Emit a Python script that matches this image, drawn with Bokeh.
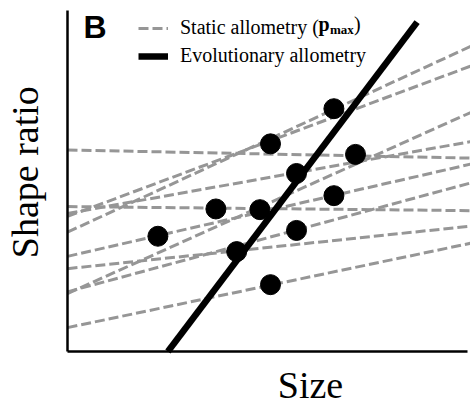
import math
from bokeh.plotting import figure
from bokeh.models import Range1d, Label, Legend, LegendItem, FixedTicker
from bokeh.embed import file_html
from bokeh.resources import INLINE

# ---- data ----
# species means (p_max points)
size_mean = [6.66, 5.075, 7.20, 5.725, 6.66, 3.71, 4.81, 2.26, 5.725, 4.23, 5.075]
shape_mean = [7.12, 6.09, 5.78, 5.22, 4.57, 4.18, 4.16, 3.38, 3.55, 2.93, 1.96]

# static allometry lines: shape ratio at the two ends of the size span
size_span = [0.0, 10.1]
static_start = [3.50, 3.96, 5.91, 4.05, 2.79, 4.25, 1.70, 1.75, 2.43, 0.70]
static_end = [8.96, 8.38, 5.67, 6.16, 5.50, 4.13, 7.02, 4.95, 3.68, 3.18]

# evolutionary allometry line
evo_size = [2.51, 8.74]
evo_shape = [0.0, 9.66]

# axis extents (data units)
size_axis = (0.0, 10.0)
shape_axis = (0.0, 10.0)

# ---- page-pixel helpers for text placement ----
W, H = 470, 414
FRAME_L, FRAME_B = 67.0, 351.0
PX_X = 40.0
PX_Y = 34.1


def dx(px):
    return (px - FRAME_L) / PX_X


def dy(py):
    return (FRAME_B - py) / PX_Y


serif = "Liberation Serif"

p = figure(width=W, height=H, output_backend="svg", toolbar_location=None,
           x_range=Range1d(dx(0), dx(W)), y_range=Range1d(dy(H), dy(0)),
           min_border_left=0, min_border_right=0, min_border_top=0,
           min_border_bottom=0)
p.outline_line_color = None
p.grid.visible = False

for ax, loc, bnds in ((p.xaxis[0], 0.0, size_axis), (p.yaxis[0], 0.0, shape_axis)):
    ax.ticker = FixedTicker(ticks=[])
    ax.major_label_text_font_size = "0px"
    ax.major_label_standoff = 0
    ax.major_tick_out = 0
    ax.major_tick_in = 0
    ax.minor_tick_out = 0
    ax.minor_tick_in = 0
    ax.major_tick_line_color = None
    ax.minor_tick_line_color = None
    ax.axis_label = None
    ax.axis_line_width = 2.5
    ax.axis_line_color = "black"
    ax.fixed_location = loc
    ax.bounds = bnds

GRAY = "#969696"
r_static = p.multi_line(xs=[size_span for _ in static_start],
                        ys=[[a, b] for a, b in zip(static_start, static_end)],
                        line_color=GRAY, line_width=3, line_dash="10 4")
r_evo = p.line(evo_size, evo_shape, line_color="black", line_width=6.5)
p.scatter(size_mean, shape_mean, size=20, color="black")

legend = Legend(items=[LegendItem(label="Static allometry (", renderers=[r_static]),
                       LegendItem(label="Evolutionary allometry", renderers=[r_evo])],
                location=(138, 347), orientation="vertical",
                glyph_width=30, glyph_height=20, label_standoff=12, spacing=5,
                padding=0, margin=0, border_line_color=None,
                background_fill_alpha=0, label_text_font=serif,
                label_text_font_size="20px", label_text_color="black")
p.add_layout(legend)


def mid(baseline_px, size, asc=0.891, desc=0.216):
    return dy(baseline_px - (asc - desc) / 2 * size)


p.add_layout(Label(x=dx(318), y=mid(29.9, 20), text="p", text_font=serif,
                   text_font_style="bold", text_font_size="20px",
                   text_color="black", text_baseline="middle"))
p.add_layout(Label(x=dx(329.5), y=mid(33.2, 13), text="max", text_font=serif,
                   text_font_style="bold", text_font_size="13px",
                   text_color="black", text_baseline="middle"))
p.add_layout(Label(x=dx(353.5), y=mid(29.9, 20), text=")", text_font=serif,
                   text_font_size="20px", text_color="black",
                   text_baseline="middle"))

p.add_layout(Label(x=dx(83), y=mid(37.5, 32, 0.905, 0.212), text="B",
                   text_font="Liberation Sans", text_font_style="bold",
                   text_font_size="32px", text_color="black",
                   text_baseline="middle"))

# axis titles
p.add_layout(Label(x=dx(310), y=mid(397, 38), text="Size", text_font=serif,
                   text_font_size="38px", text_color="black",
                   text_align="center", text_baseline="middle"))
p.add_layout(Label(x=dx(37 - (0.891 - 0.216) / 2 * 38), y=dy(171.7),
                   text="Shape ratio", text_font=serif, text_font_size="38px",
                   text_color="black", text_align="center",
                   text_baseline="middle", angle=math.pi / 2))

open("out.html", "w").write(file_html(p, INLINE))
